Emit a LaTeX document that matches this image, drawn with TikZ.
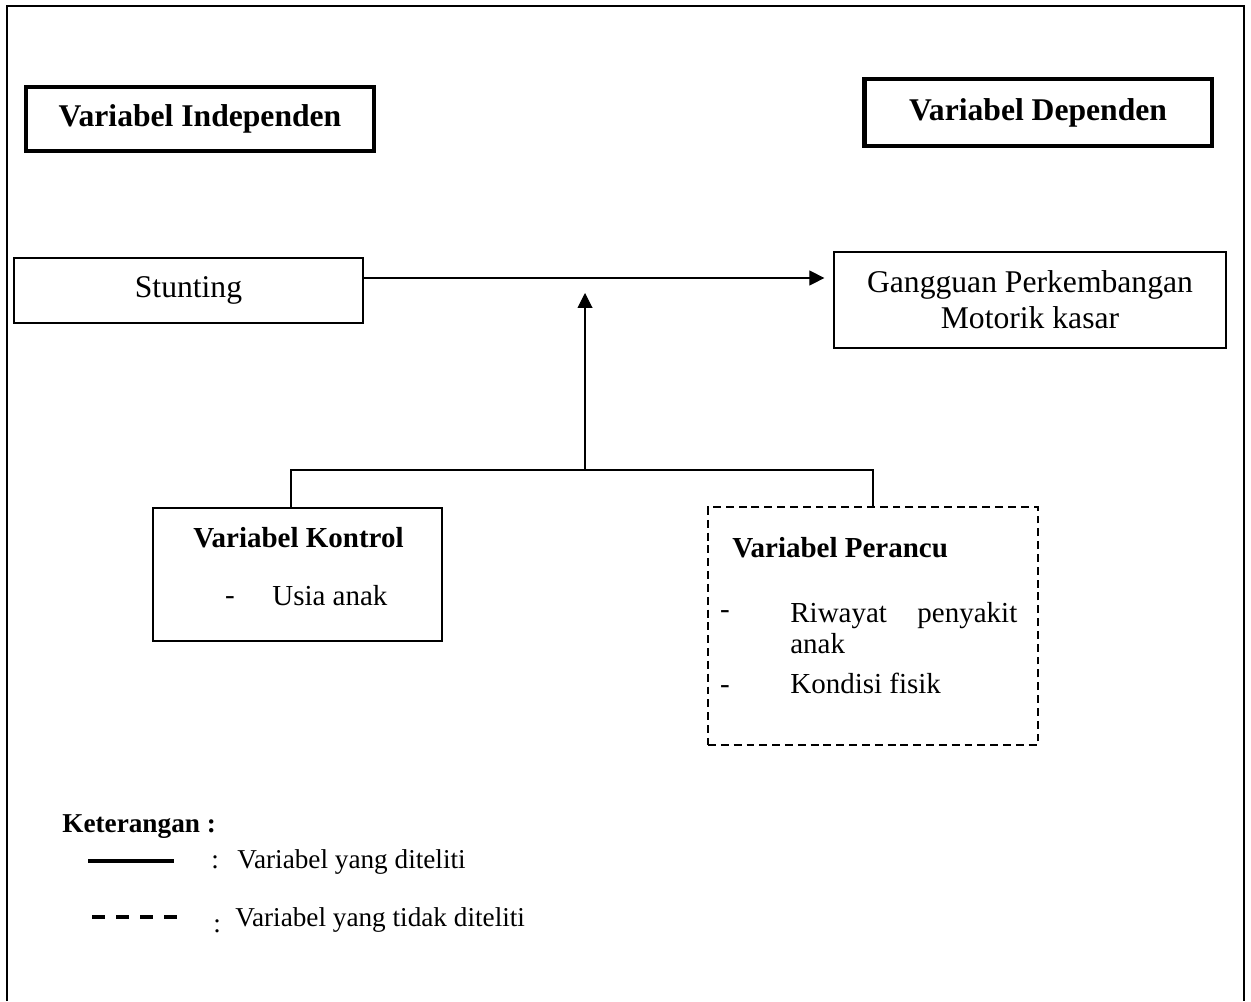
\documentclass[tikz,border=0pt]{standalone}
\usepackage{fontspec}
\setmainfont{Liberation Serif}
\usetikzlibrary{arrows.meta,calc}

\begin{document}
\begin{tikzpicture}[x=0.02cm, y=-0.02cm,
    frame/.style={line width=1.1pt},
    header/.style={draw, line width=2.8pt, minimum width=6.96cm,
      font=\fontsize{18}{20}\selectfont\bfseries},
    varbox/.style={draw, line width=0.75pt, align=center,
      font=\fontsize{18}{20.5}\selectfont},
    ctrlbox/.style={draw, line width=0.75pt},
    confbox/.style={draw, line width=0.9pt, dash pattern=on 4.5pt off 2.8pt},
    boxtitle/.style={inner sep=0pt, font=\fontsize{16.5}{18}\selectfont\bfseries},
    boxitem/.style={inner sep=0pt, font=\fontsize{16.5}{17.6}\selectfont},
    legtext/.style={inner sep=0pt, anchor=base west, font=\fontsize{15.5}{17}\selectfont},
    link/.style={line width=0.6pt},
    arr/.style={link, -{Triangle[length=8.5pt,width=8.5pt]}}]
  \useasboundingbox (0,0) rectangle (1251,1001);
  \draw[frame] (7,1001) |- (1244,6) -- (1244,1001);

  \node [header, minimum height=1.28cm] (indep) at (200, 119) {Variabel Independen};
  \node [header, minimum height=1.34cm] (dep) at (1038, 112.5) {Variabel Dependen};

  \node [varbox, minimum width=6.98cm, minimum height=1.3cm] (stunting) at (188.5, 290.5) {Stunting};
  \node [varbox, minimum width=7.84cm, minimum height=1.92cm] (motorik) at (1030, 300)
    {Gangguan Perkembangan\\Motorik kasar};

  \node [ctrlbox, minimum width=5.78cm, minimum height=2.66cm] (kontrol) at (297.5, 574.5) {};
  \node [boxtitle, anchor=base] (kontroltitle) at (298.5, 547) {Variabel Kontrol};
  \node [boxitem, anchor=base] (kontroldash) at (230, 604) {-};
  \node [boxitem, anchor=base west] (usia) at (272, 605) {Usia anak};

  \node [confbox, minimum width=6.6cm, minimum height=4.76cm] (perancu) at (873, 626) {};
  \node [boxtitle, anchor=base west] (perancutitle) at (732, 557) {Variabel Perancu};
  \node [boxitem, anchor=base] (dashone) at (725, 618) {-};
  \node [boxitem, anchor=north west, text width=4.54cm, align=left] (riwayat) at (790, 602)
    {Riwayat\hfill penyakit\\anak};
  \node [boxitem, anchor=base] (dashtwo) at (725, 693) {-};
  \node [boxitem, anchor=base west] (fisik) at (790, 693) {Kondisi fisik};

  \coordinate (mid) at (585, 278);
  \coordinate (fork) at (585, 470);
  \draw[arr, shorten >=0.18cm] (stunting.east |- mid) -- (motorik.west |- mid);
  \draw[arr, shorten >=0.3cm] (fork) -- (mid);
  \draw[link] ([xshift=-0.13cm]kontrol.north) |- (fork) -| (perancu.north);

  \node [legtext, font=\fontsize{15.5}{17}\selectfont\bfseries] (ket) at (62, 832) {Keterangan :};
  \draw[line width=1.9pt] (88, 861) -- (174, 861);
  \node [legtext] (colonone) at (211, 868) {:};
  \node [legtext] (diteliti) at (237, 868) {Variabel yang diteliti};
  \draw[line width=2.3pt, dash pattern=on 7.4pt off 6.3pt] (92, 917) -- (178, 917);
  \node [legtext] (colontwo) at (213, 932) {:};
  \node [legtext] (tidak) at (235, 926) {Variabel yang tidak diteliti};
\end{tikzpicture}
\end{document}
